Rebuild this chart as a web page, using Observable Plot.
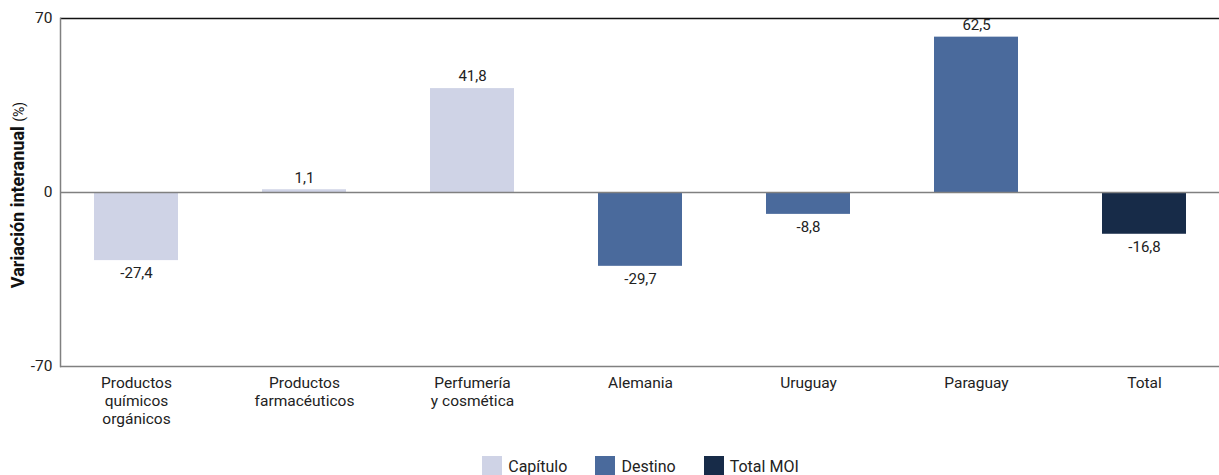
<!DOCTYPE html>
<html><head><meta charset="utf-8">
<script src="https://cdn.jsdelivr.net/npm/d3@7"></script>
<script src="https://cdn.jsdelivr.net/npm/@observablehq/plot@0.6"></script>
<style>
body{margin:0;background:#fff;font-family:"Roboto","Noto Sans",sans-serif;}
#legend{display:flex;justify-content:center;gap:28px;font-size:16px;color:#222;margin-top:16px;margin-left:62px;}
#legend span{display:inline-flex;align-items:center;gap:6px;}
#legend i{display:inline-block;width:20px;height:20px;}
</style></head><body>
<div id="chart"></div>
<div id="legend"></div>
<script>
const categories = ["Productos\nquímicos\norgánicos","Productos\nfarmacéuticos","Perfumería\ny cosmética","Alemania","Uruguay","Paraguay","Total"];
const values = [-27.4, 1.1, 41.8, -29.7, -8.8, 62.5, -16.8];
const groups = ["Capítulo","Capítulo","Capítulo","Destino","Destino","Destino","Total MOI"];
const groupNames = ["Capítulo","Destino","Total MOI"];
const groupColors = ["#cfd3e6","#4a6a9c","#172b48"];
const yTicks = [-70, 0, 70];

const data = categories.map((c,i)=>({cat:c, v:values[i], g:groups[i], label:String(values[i]).replace(".",",")}));
const pos = data.filter(d=>d.v>=0), neg = data.filter(d=>d.v<0);

const xRange = [51, 1228];
const pIn = 0.5, pOut = 0.25;

const chart = Plot.plot({
  width:1219, height:440,
  marginTop:18, marginBottom:74, marginLeft:60, marginRight:0,
  style:{fontFamily:'"Roboto",sans-serif', fontSize:"15px", color:"#222"},
  x:{domain:categories, range:xRange, paddingInner:pIn, paddingOuter:pOut, label:null, axis:null},
  y:{domain:[-70,70], label:null, axis:null},
  color:{domain:groupNames, range:groupColors},
  marks:[
    Plot.barY(data,{x:"cat", y:"v", fill:"g"}),
    Plot.axisX({tickSize:0, tickPadding:9, fontSize:15.5, lineHeight:1.15, label:null}),
    Plot.axisY(yTicks,{tickSize:0, tickPadding:8, fontSize:15.5, label:null, tickFormat:d=>String(d)}),
    Plot.ruleY([0],{stroke:"#808080", strokeWidth:1.5}),
    Plot.ruleY([70],{stroke:"#111", strokeWidth:1.5}),
    Plot.ruleY([-70],{stroke:"#808080", strokeWidth:1.5}),
    Plot.frame({anchor:"left", stroke:"#808080", strokeWidth:1.5}),
    Plot.text(pos,{x:"cat", y:"v", text:"label", dy:-12, fontSize:15, fill:"#222"}),
    Plot.text(neg,{x:"cat", y:"v", text:"label", dy:13, fontSize:15, fill:"#222"})
  ]
});
document.getElementById("chart").appendChild(chart);

const svg = d3.select(chart);
const t = svg.append("text").attr("transform","translate(24,195) rotate(-90)")
  .attr("text-anchor","middle").attr("font-size",18).attr("font-weight","bold").attr("fill","#111")
  .attr("font-family",'"Roboto",sans-serif');
t.append("tspan").text("Variación interanual ");
t.append("tspan").attr("font-size",14).attr("font-weight","normal").text("(%)");

const lg = d3.select("#legend");
groupNames.forEach((g,i)=>{
  const s = lg.append("span");
  s.append("i").style("background",groupColors[i]);
  s.append("b").style("font-weight","normal").text(g);
});
</script>
</body></html>
